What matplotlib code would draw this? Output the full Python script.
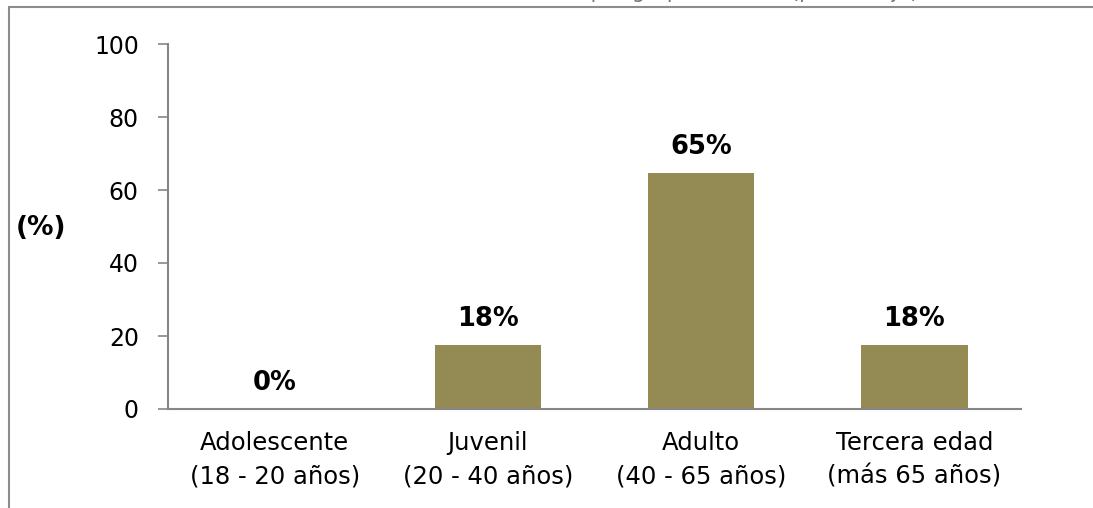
import matplotlib
matplotlib.use("Agg")
import matplotlib.pyplot as plt
from matplotlib.patches import Rectangle

categories = ["Adolescente\n(18 - 20 años)", "Juvenil\n(20 - 40 años)",
              "Adulto\n(40 - 65 años)", "Tercera edad\n(más 65 años)"]
values = [0.0, 17.65, 64.7, 17.65]
yticks = [0, 20, 40, 60, 80, 100]

W, H = 1093, 508
fig = plt.figure(figsize=(W / 100, H / 100), dpi=100)
plt.rcParams['font.family'] = ['DejaVu Sans']

# outer chart frame (partially cut off)
fig.patches.append(Rectangle((8.5 / W, -0.1), 1.2, (H - 7.5) / H + 0.1,
                             transform=fig.transFigure, fill=False,
                             edgecolor='#8c8c8c', linewidth=1.5, zorder=0))
# cut-off title (only descenders visible in the reference)
fig.text(0.63, 1 + 2 / H, "Distribución por grupo de edad (porcentaje)",
         ha='center', va='baseline', fontsize=15, color='#777777')

ax = fig.add_axes([168 / W, (H - 409) / H, (1021 - 168) / W, (409 - 44) / H])
x = range(len(categories))
bars = ax.bar(x, values, width=0.5, color='#948A54', zorder=2)
ax.set_xlim(-0.5, len(categories) - 0.5)
ax.set_ylim(0, 100)
ax.set_yticks(yticks)
ax.set_xticks(list(x))
ax.set_xticklabels(categories, fontsize=17.5, linespacing=1.5)
ax.tick_params(axis='y', labelsize=17, length=7, width=1.2,
               color='#868686', pad=14)
ax.tick_params(axis='x', length=0, pad=16)
for s in ['top', 'right']:
    ax.spines[s].set_visible(False)
for s in ['left', 'bottom']:
    ax.spines[s].set_color('#868686')
    ax.spines[s].set_linewidth(1.5)

for xi, v in zip(x, values):
    ax.annotate(f"{round(v):.0f}%", (xi, v), xytext=(0, 9),
                textcoords='offset points', ha='center', va='bottom',
                fontsize=18.5, fontweight='bold')

fig.text(16 / W, (H - 228) / H, "(%)", fontsize=19, fontweight='bold',
         ha='left', va='center')

fig.savefig("out.png", dpi=100)
